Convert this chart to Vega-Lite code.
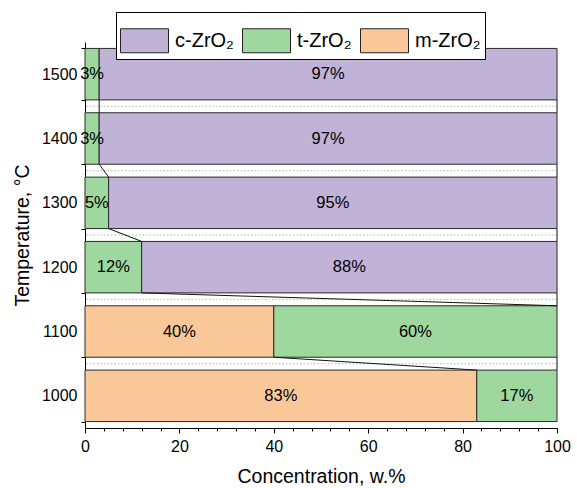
{
  "$schema": "https://vega.github.io/schema/vega-lite/v6.json",
  "width": 472,
  "height": 386,
  "autosize": {"type": "none"},
  "padding": {"left": 85, "top": 42, "right": 20, "bottom": 60},
  "background": "white",
  "config": {
    "font": "Liberation Sans",
    "view": {"stroke": null},
    "axis": {
      "domainColor": "black",
      "domainWidth": 1,
      "tickColor": "black",
      "tickWidth": 1,
      "labelColor": "black",
      "titleColor": "black",
      "labelFont": "Liberation Sans",
      "titleFont": "Liberation Sans",
      "labelFontSize": 16,
      "titleFontSize": 19.5,
      "titleFontWeight": "normal",
      "labelOverlap": false,
      "grid": false
    },
    "legend": {
      "orient": "none",
      "legendX": 31,
      "legendY": -30,
      "direction": "horizontal",
      "fillColor": "white",
      "strokeColor": "black",
      "padding": 4,
      "symbolType": "M-1,-0.5H1V0.5H-1Z",
      "symbolSize": 2304,
      "symbolStrokeColor": "#222",
      "symbolStrokeWidth": 1,
      "symbolOpacity": 1,
      "labelFont": "Liberation Sans",
      "labelFontSize": 20,
      "labelColor": "black",
      "labelOffset": 6,
      "columnPadding": 6,
      "labelLimit": 200
    }
  },
  "datasets": {
    "phases": [
      {"T": 1500, "phase": "t-ZrO₂", "v": 3, "o": 2},
      {"T": 1500, "phase": "c-ZrO₂", "v": 97, "o": 3},
      {"T": 1400, "phase": "t-ZrO₂", "v": 3, "o": 2},
      {"T": 1400, "phase": "c-ZrO₂", "v": 97, "o": 3},
      {"T": 1300, "phase": "t-ZrO₂", "v": 5, "o": 2},
      {"T": 1300, "phase": "c-ZrO₂", "v": 95, "o": 3},
      {"T": 1200, "phase": "t-ZrO₂", "v": 12, "o": 2},
      {"T": 1200, "phase": "c-ZrO₂", "v": 88, "o": 3},
      {"T": 1100, "phase": "m-ZrO₂", "v": 40, "o": 1},
      {"T": 1100, "phase": "t-ZrO₂", "v": 60, "o": 2},
      {"T": 1000, "phase": "m-ZrO₂", "v": 83, "o": 1},
      {"T": 1000, "phase": "t-ZrO₂", "v": 17, "o": 2}
    ],
    "links": [
      {"upper": 1500, "lower": 1400, "end_upper": 3, "end_lower": 3},
      {"upper": 1400, "lower": 1300, "end_upper": 3, "end_lower": 5},
      {"upper": 1300, "lower": 1200, "end_upper": 5, "end_lower": 12},
      {"upper": 1200, "lower": 1100, "end_upper": 12, "end_lower": 100},
      {"upper": 1100, "lower": 1000, "end_upper": 40, "end_lower": 83},
      {"upper": 1500, "lower": 1400, "end_upper": 100, "end_lower": 100},
      {"upper": 1400, "lower": 1300, "end_upper": 100, "end_lower": 100},
      {"upper": 1300, "lower": 1200, "end_upper": 100, "end_lower": 100},
      {"upper": 1200, "lower": 1100, "end_upper": 100, "end_lower": 100},
      {"upper": 1100, "lower": 1000, "end_upper": 100, "end_lower": 100}
    ],
    "boundaries": [
      {"T": 1400}, {"T": 1300}, {"T": 1200}, {"T": 1100}, {"T": 1000}
    ]
  },
  "layer": [
    {
      "data": {"name": "boundaries"},
      "mark": {"type": "rule", "color": "#b5b5b5", "strokeWidth": 1, "strokeDash": [1.5, 2]},
      "encoding": {
        "y": {
          "field": "T", "type": "ordinal", "bandPosition": -0.125,
          "title": "Temperature, °C",
          "scale": {"type": "band", "domain": [1500, 1400, 1300, 1200, 1100, 1000], "paddingInner": 0.2, "paddingOuter": 0.1}
        }
      }
    },
    {
      "data": {"name": "phases"},
      "mark": {"type": "bar", "stroke": "#2a2a2a", "strokeWidth": 1},
      "encoding": {
        "y": {
          "field": "T", "type": "ordinal",
          "title": "Temperature, °C",
          "scale": {"type": "band", "domain": [1500, 1400, 1300, 1200, 1100, 1000], "paddingInner": 0.2, "paddingOuter": 0.1},
          "axis": {"tickBand": "extent", "tickSize": 4, "labelPadding": 4, "titlePadding": 9, "labelAngle": 0}
        },
        "x": {
          "field": "v", "type": "quantitative", "stack": "zero",
          "title": "Concentration, w.%",
          "scale": {"domain": [0, 100], "nice": false},
          "axis": {
            "values": [0, 4, 8, 12, 16, 20, 24, 28, 32, 36, 40, 44, 48, 52, 56, 60, 64, 68, 72, 76, 80, 84, 88, 92, 96, 100],
            "tickCount": 100,
            "labelExpr": "datum.value % 20 === 0 ? datum.label : ''",
            "tickSize": {"condition": {"test": "datum.value % 20 === 0", "value": 5}, "value": 3},
            "labelFlush": false,
            "labelPadding": 5,
            "titlePadding": 13
          }
        },
        "color": {
          "field": "phase", "type": "nominal", "title": null,
          "scale": {"domain": ["c-ZrO₂", "t-ZrO₂", "m-ZrO₂"], "range": ["#C1B2D7", "#9FD89F", "#FAC898"]}
        },
        "order": {"field": "o", "type": "quantitative", "sort": "ascending"}
      }
    },
    {
      "data": {"name": "links"},
      "mark": {"type": "rule", "color": "#111111", "strokeWidth": 1},
      "encoding": {
        "y": {
          "field": "upper", "type": "ordinal", "bandPosition": 1,
          "title": "Temperature, °C",
          "scale": {"type": "band", "domain": [1500, 1400, 1300, 1200, 1100, 1000], "paddingInner": 0.2, "paddingOuter": 0.1}
        },
        "y2": {"field": "lower", "bandPosition": 0},
        "x": {"field": "end_upper", "type": "quantitative", "title": "Concentration, w.%", "scale": {"domain": [0, 100], "nice": false}},
        "x2": {"field": "end_lower"}
      }
    },
    {
      "data": {"name": "phases"},
      "mark": {"type": "text", "fontSize": 16.5, "color": "black", "baseline": "middle", "align": "center", "text": {"expr": "datum.v + '%'"}},
      "encoding": {
        "y": {
          "field": "T", "type": "ordinal",
          "title": "Temperature, °C",
          "scale": {"type": "band", "domain": [1500, 1400, 1300, 1200, 1100, 1000], "paddingInner": 0.2, "paddingOuter": 0.1}
        },
        "x": {"field": "v", "type": "quantitative", "stack": "zero", "bandPosition": 0.5, "title": "Concentration, w.%", "scale": {"domain": [0, 100], "nice": false}},
        "detail": {"field": "phase", "type": "nominal"},
        "order": {"field": "o", "type": "quantitative", "sort": "ascending"}
      }
    }
  ]
}
